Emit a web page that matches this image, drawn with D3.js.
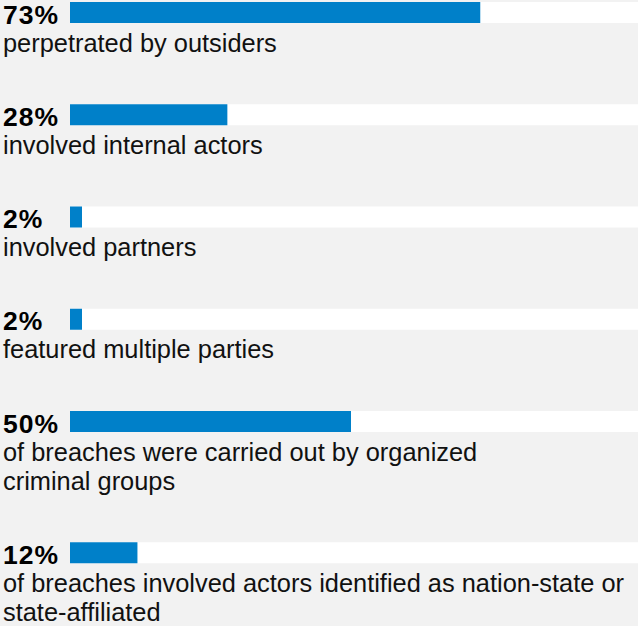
<!DOCTYPE html>
<html>
<head>
<meta charset="utf-8">
<script src="https://cdn.jsdelivr.net/npm/d3@7"></script>
<style>
  html, body { margin: 0; padding: 0; background: #f2f2f2; }
  svg { display: block; }
  text { font-family: "Liberation Sans", Arial, Helvetica, sans-serif; }
</style>
</head>
<body>
<svg id="chart" width="638" height="626"></svg>
<script>
// Data
const percentValues = [73, 28, 2, 2, 50, 12];
const percentLabels = ["73%", "28%", "2%", "2%", "50%", "12%"];
const captions = [
  ["perpetrated by outsiders"],
  ["involved internal actors"],
  ["involved partners"],
  ["featured multiple parties"],
  ["of breaches were carried out by organized", "criminal groups"],
  ["of breaches involved actors identified as nation-state or", "state-affiliated"]
];

const W = 638, H = 626;
const svg = d3.select("#chart");
svg.append("rect").attr("width", W).attr("height", H).attr("fill", "#f2f2f2");

const trackX0 = 70, trackX1 = 638;
const x = d3.scaleLinear().domain([0, 100]).range([trackX0, trackX0 + 562]);
const barH = 21;
const rowBase = 102.25, lineH = 29, top0 = 2;

// compute row tops from number of caption lines
const tops = [];
let acc = top0;
captions.forEach((c, i) => {
  tops.push(acc);
  acc += rowBase + (c.length - 1) * lineH;
});

const rows = svg.selectAll("g.row")
  .data(percentValues.map((v, i) => ({ v, label: percentLabels[i], cap: captions[i], top: tops[i] })))
  .join("g")
  .attr("class", "row")
  .attr("transform", d => `translate(0,${d.top})`);

rows.append("rect")
  .attr("x", trackX0).attr("y", 0)
  .attr("width", trackX1 - trackX0).attr("height", barH)
  .attr("fill", "#ffffff");

rows.append("rect")
  .attr("x", x(0)).attr("y", 0)
  .attr("width", d => Math.max(12, x(d.v) - x(0))).attr("height", barH)
  .attr("fill", "#0080c9");

rows.append("text")
  .attr("x", 3).attr("y", 21.5)
  .attr("font-size", 26.5).attr("font-weight", "bold")
  .attr("letter-spacing", 1)
  .attr("fill", "#000")
  .text(d => d.label);

rows.each(function(d) {
  const g = d3.select(this);
  d.cap.forEach((line, j) => {
    g.append("text")
      .attr("x", 3).attr("y", 49.5 + j * lineH)
      .attr("font-size", 25.4)
      .attr("fill", "#111")
      .text(line);
  });
});
</script>
</body>
</html>
